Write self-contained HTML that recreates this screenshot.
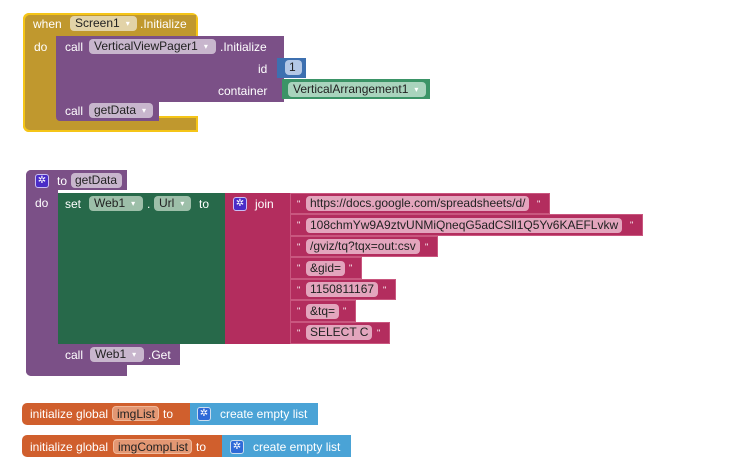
<!DOCTYPE html>
<html><head><style>
body{margin:0;width:742px;height:469px;background:#fff;position:relative;overflow:hidden;font-family:"Liberation Sans",Arial,sans-serif;font-size:12px;color:#fff}
div{position:absolute;box-sizing:border-box}
.t{white-space:nowrap;line-height:14px}
.dd{height:15px;border-radius:4px;padding:0 0 0 5px;line-height:15px;color:#222;white-space:nowrap}
.dd:after{content:"▾";font-size:8px;color:#fff;margin-left:6px;position:relative;top:-1px}
.f{height:15px;border-radius:4px;padding:0 4px;line-height:15px;color:#222;white-space:nowrap}
.gear{width:14px;height:14px;background:#4a2cc7;border-radius:3px;border:1px solid #c9bff5;color:#fff;font-size:10px;line-height:12px;text-align:center}
.y{background:#f5c518}
.g{background:#c0982e}
</style></head><body>
<!-- Block 1 -->
<div class="y" style="left:23px;top:13px;width:175px;height:25px;border-radius:6px 6px 0 0"></div>
<div class="y" style="left:23px;top:13px;width:35px;height:119px;border-radius:6px 0 0 6px"></div>
<div class="y" style="left:23px;top:116px;width:175px;height:16px;border-radius:0 0 0 6px"></div>
<div class="g" style="left:25px;top:15px;width:171px;height:21px;border-radius:5px 0 0 0"></div>
<div class="g" style="left:25px;top:15px;width:31px;height:115px;border-radius:5px 0 0 5px"></div>
<div class="g" style="left:25px;top:118px;width:171px;height:12px;border-radius:0 0 0 5px"></div>
<div class="t" style="left:33px;top:17px;">when</div>
<div class="dd" style="left:70px;top:16px;width:67px;background:#e2d3a8">Screen1</div>
<div class="t" style="left:140px;top:17px;">.Initialize</div>
<div class="t" style="left:34px;top:40px;">do</div>
<div style="left:56px;top:36px;width:228px;height:66px;background:#7b5087"></div>
<div class="t" style="left:65px;top:40px;">call</div>
<div class="dd" style="left:89px;top:39px;width:127px;background:#c8b6cd">VerticalViewPager1</div>
<div class="t" style="left:220px;top:40px;">.Initialize</div>
<div class="t" style="left:258px;top:62px;">id</div>
<div style="left:277px;top:58px;width:29px;height:20px;background:#3d70b0"></div>
<div class="f" style="left:285px;top:60px;width:17px;background:#b4c8e6">1</div>
<div class="t" style="left:218px;top:84px;">container</div>
<div style="left:282px;top:79px;width:148px;height:20px;background:#3b9467"></div>
<div class="dd" style="left:288px;top:82px;width:138px;background:#a9d4bd">VerticalArrangement1</div>
<div style="left:56px;top:102px;width:103px;height:19px;background:#7b5087;border-radius:0 0 0 4px"></div>
<div class="t" style="left:65px;top:104px;">call</div>
<div class="dd" style="left:89px;top:103px;width:64px;background:#c8b6cd">getData</div>
<!-- Block 2 -->
<div style="left:26px;top:170px;width:101px;height:20px;background:#7b5087;border-radius:5px 0 0 0"></div>
<div style="left:26px;top:170px;width:32px;height:206px;background:#7b5087;border-radius:5px 0 0 5px"></div>
<div style="left:26px;top:358px;width:101px;height:18px;background:#7b5087;border-radius:0 0 0 5px"></div>
<div class="gear" style="left:35px;top:174px">✲</div>
<div class="t" style="left:57px;top:174px;">to</div>
<div class="f" style="left:71px;top:173px;width:51px;background:#c8b6cd">getData</div>
<div class="t" style="left:35px;top:196px;">do</div>
<div style="left:58px;top:193px;width:167px;height:151px;background:#27694a"></div>
<div class="t" style="left:65px;top:197px;">set</div>
<div class="dd" style="left:89px;top:196px;width:54px;background:#9dbfa9">Web1</div>
<div class="t" style="left:147px;top:197px;">.</div>
<div class="dd" style="left:154px;top:196px;width:37px;background:#9dbfa9">Url</div>
<div class="t" style="left:199px;top:197px;">to</div>
<div style="left:225px;top:193px;width:65px;height:151px;background:#b32d5e"></div>
<div class="gear" style="left:233px;top:197px">✲</div>
<div class="t" style="left:255px;top:197px;">join</div>
<div style="left:290px;top:193px;width:260px;height:21px;background:#b32d5e;border:1px solid #c9577f"></div>
<div style="left:290px;top:214px;width:353px;height:22px;background:#b32d5e;border:1px solid #c9577f"></div>
<div style="left:290px;top:236px;width:148px;height:21px;background:#b32d5e;border:1px solid #c9577f"></div>
<div style="left:290px;top:257px;width:72px;height:22px;background:#b32d5e;border:1px solid #c9577f"></div>
<div style="left:290px;top:279px;width:106px;height:21px;background:#b32d5e;border:1px solid #c9577f"></div>
<div style="left:290px;top:300px;width:66px;height:22px;background:#b32d5e;border:1px solid #c9577f"></div>
<div style="left:290px;top:322px;width:100px;height:22px;background:#b32d5e;border:1px solid #c9577f"></div>
<div class="t" style="left:297px;top:197px;font-size:9px">"</div><div class="f" style="left:306px;top:196px;background:#e3a5bd">https://docs.google.com/spreadsheets/d/</div><div class="t" style="left:537px;top:197px;font-size:9px">"</div>
<div class="t" style="left:297px;top:218px;font-size:9px">"</div><div class="f" style="left:306px;top:218px;background:#e3a5bd">108chmYw9A9ztvUNMiQneqG5adCSll1Q5Yv6KAEFLvkw</div><div class="t" style="left:630px;top:218px;font-size:9px">"</div>
<div class="t" style="left:297px;top:240px;font-size:9px">"</div><div class="f" style="left:306px;top:239px;background:#e3a5bd">/gviz/tq?tqx=out:csv</div><div class="t" style="left:425px;top:240px;font-size:9px">"</div>
<div class="t" style="left:297px;top:261px;font-size:9px">"</div><div class="f" style="left:306px;top:261px;background:#e3a5bd">&amp;gid=</div><div class="t" style="left:349px;top:261px;font-size:9px">"</div>
<div class="t" style="left:297px;top:283px;font-size:9px">"</div><div class="f" style="left:306px;top:282px;background:#e3a5bd">1150811167</div><div class="t" style="left:383px;top:283px;font-size:9px">"</div>
<div class="t" style="left:297px;top:304px;font-size:9px">"</div><div class="f" style="left:306px;top:304px;background:#e3a5bd">&amp;tq=</div><div class="t" style="left:343px;top:304px;font-size:9px">"</div>
<div class="t" style="left:297px;top:326px;font-size:9px">"</div><div class="f" style="left:306px;top:325px;background:#e3a5bd">SELECT C</div><div class="t" style="left:377px;top:326px;font-size:9px">"</div>
<div style="left:58px;top:344px;width:122px;height:21px;background:#7b5087"></div>
<div class="t" style="left:65px;top:348px;">call</div>
<div class="dd" style="left:90px;top:347px;width:54px;background:#c8b6cd">Web1</div>
<div class="t" style="left:148px;top:348px;">.Get</div>
<!-- Globals -->
<div style="left:22px;top:403px;width:170px;height:22px;background:#d05f2d;border-radius:5px 0 0 5px"></div>
<div class="t" style="left:30px;top:407px;">initialize global</div>
<div class="f" style="left:112px;top:406px;width:47px;background:#e39773;border:1px solid #f0b89a">imgList</div>
<div class="t" style="left:163px;top:407px;">to</div>
<div style="left:190px;top:403px;width:128px;height:22px;background:#4aa3d6"></div>
<div class="gear" style="left:197px;top:407px;background:#2f6ad8;border-color:#cde">✲</div>
<div class="t" style="left:220px;top:407px;">create empty list</div>
<div style="left:22px;top:435px;width:202px;height:22px;background:#d05f2d;border-radius:5px 0 0 5px"></div>
<div class="t" style="left:30px;top:440px;">initialize global</div>
<div class="f" style="left:113px;top:439px;width:79px;background:#e39773;border:1px solid #f0b89a">imgCompList</div>
<div class="t" style="left:196px;top:440px;">to</div>
<div style="left:222px;top:435px;width:129px;height:22px;background:#4aa3d6"></div>
<div class="gear" style="left:230px;top:440px;background:#2f6ad8;border-color:#cde">✲</div>
<div class="t" style="left:253px;top:440px;">create empty list</div>
</body></html>
